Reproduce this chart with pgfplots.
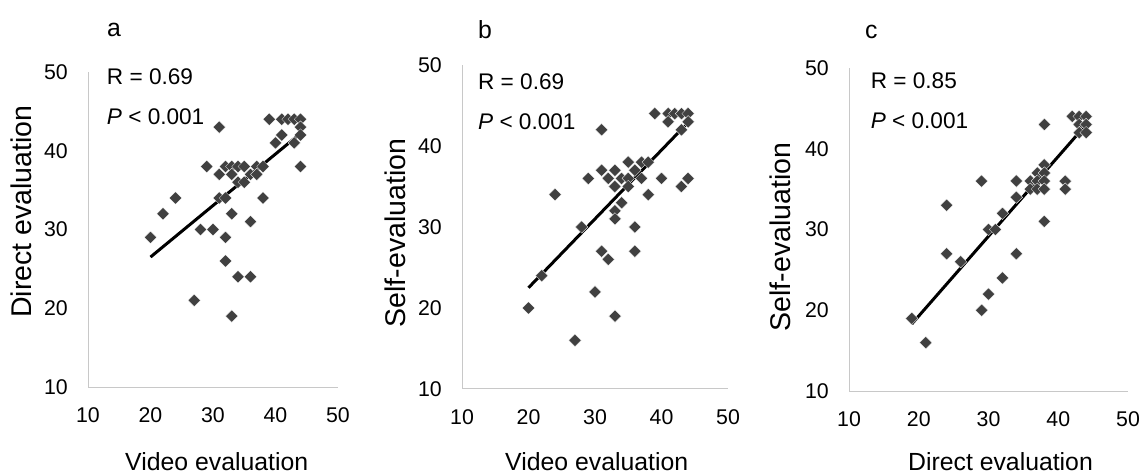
\documentclass[border=0pt]{standalone}
\usepackage{fontspec}
\setmainfont{Liberation Sans}
\usepackage{pgfplots}
\pgfplotsset{compat=1.18}

\definecolor{markgray}{HTML}{404040}
\definecolor{axisgray}{HTML}{C8C8C8}
\newcommand{\ticksize}{\fontsize{21.3}{25}\selectfont}
\newcommand{\labsize}{\fontsize{24.8}{28}\selectfont}
\newcommand{\ylabsize}{\fontsize{28.5}{32}\selectfont}
\newcommand{\annsize}{\fontsize{22.6}{26}\selectfont}

\pgfplotsset{panel/.style={
    scale only axis, anchor=south west,
    xmin=10, xmax=50, ymin=10, ymax=50,
    xtick={10,20,...,50}, ytick={10,20,...,50},
    axis x line=bottom, axis y line=left,
    axis line style={-, draw=axisgray, line width=1pt},
    major tick length=0pt,
    tick label style={font=\ticksize, inner sep=0pt},
    xticklabel style={anchor=base, yshift=-35pt},
    yticklabel style={anchor=east, xshift=-20pt},
    /pgf/number format/assume math mode=true,
    clip=false,
  },
  dots/.style={only marks, mark=square*, mark size=4.4pt,
    mark options={rotate=45, fill=markgray, draw=white, line width=0.3pt}},
  fit/.style={black, line width=3pt, no marks},
}

\begin{document}
\begin{tikzpicture}
\path[use as bounding box] (0pt,0pt) rectangle (1146pt,474pt);

% a: video vs direct
\begin{axis}[panel, at={(88pt,87pt)}, width=250pt, height=315pt]
\addplot[dots] coordinates {
  (20,29) (22,32) (24,34) (27,21) (28,30) (29,38) (30,30)
  (31,43) (31,37) (31,34) (32,38) (32,34) (32,29) (32,26)
  (33,38) (33,37) (33,32) (33,19) (34,38) (34,36) (34,24)
  (35,38) (35,36) (36,37) (36,31) (36,24) (37,38) (37,37)
  (38,38) (38,34) (39,44) (40,41) (41,44) (41,42) (42,44)
  (43,44) (43,41) (44,44) (44,43) (44,42) (44,38)
};
\addplot[fit] coordinates {(20,26.5) (44,42.2)};
\node[anchor=west, font=\annsize, inner sep=0pt] at (axis cs:13,49.4) {R = 0.69};
\node[anchor=west, font=\annsize, inner sep=0pt] at (axis cs:13,44.3) {\textit{P} < 0.001};
\end{axis}

% b: video vs self
\begin{axis}[panel, at={(462pt,85pt)}, width=266pt, height=324pt]
\addplot[dots] coordinates {
  (20,20) (22,24) (24,34) (27,16) (28,30) (29,36) (30,22)
  (31,42) (31,37) (31,27) (32,36) (32,26) (33,37) (33,35)
  (33,32) (33,31) (33,19) (34,36) (34,33) (35,38) (35,36)
  (35,35) (36,37) (36,30) (36,27) (37,38) (37,36) (38,38)
  (38,34) (39,44) (40,36) (41,44) (41,43) (42,44) (43,44)
  (43,42) (43,35) (44,44) (44,43) (44,36)
};
\addplot[fit] coordinates {(20,22.5) (44,42.9)};
\node[anchor=west, font=\annsize, inner sep=0pt] at (axis cs:12.4,47.9) {R = 0.69};
\node[anchor=west, font=\annsize, inner sep=0pt] at (axis cs:12.4,43.0) {\textit{P} < 0.001};
\end{axis}

% c: direct vs self
\begin{axis}[panel, at={(849pt,83pt)}, width=279pt, height=323pt]
\addplot[dots] coordinates {
  (19,19) (21,16) (24,33) (24,27) (26,26) (29,36) (29,20)
  (30,30) (30,22) (31,30) (32,32) (32,24) (34,36) (34,34)
  (34,27) (36,36) (36,35) (37,37) (37,36) (37,35) (38,43)
  (38,38) (38,37) (38,36) (38,35) (38,31) (41,36) (41,35)
  (42,44) (43,44) (43,43) (43,42) (44,44) (44,43) (44,42)
};
\addplot[fit] coordinates {(19,18.3) (44,43.0)};
\node[anchor=west, font=\annsize, inner sep=0pt] at (axis cs:13.1,48.4) {R = 0.85};
\node[anchor=west, font=\annsize, inner sep=0pt] at (axis cs:13.1,43.5) {\textit{P} < 0.001};
\end{axis}

% panel letters and axis titles
\node[anchor=base west, font=\labsize, inner sep=0pt] at (107pt,437pt) {a};
\node[anchor=base west, font=\labsize, inner sep=0pt] at (478pt,435pt) {b};
\node[anchor=base west, font=\labsize, inner sep=0pt] at (865pt,435pt) {c};

\node[rotate=90, font=\ylabsize, inner sep=0pt] at (21pt,262.5pt) {Direct evaluation};
\node[rotate=90, font=\ylabsize, inner sep=0pt] at (395pt,241pt) {Self-evaluation};
\node[rotate=90, font=\ylabsize, inner sep=0pt] at (780pt,237pt) {Self-evaluation};

\node[anchor=base, font=\labsize, inner sep=0pt] at (216.7pt,4pt) {Video evaluation};
\node[anchor=base, font=\labsize, inner sep=0pt] at (596.7pt,4pt) {Video evaluation};
\node[anchor=base, font=\labsize, inner sep=0pt] at (1000.5pt,4pt) {Direct evaluation};
\end{tikzpicture}
\end{document}
